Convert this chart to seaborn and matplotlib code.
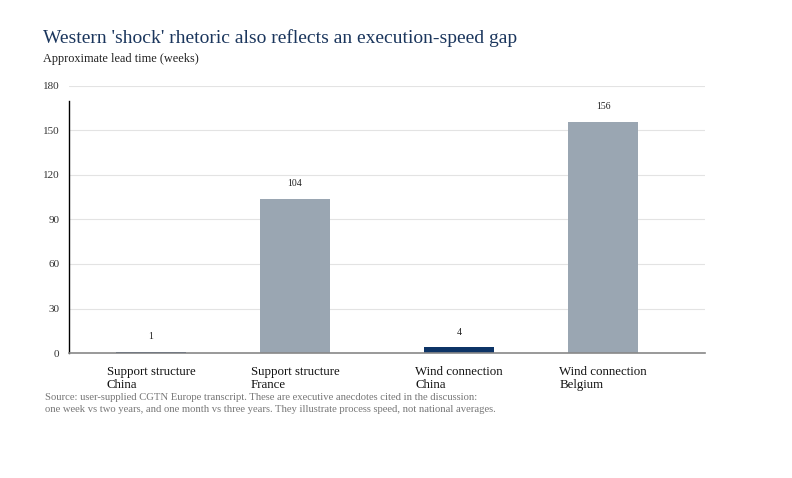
import pandas as pd
import seaborn as sns
import matplotlib.pyplot as plt

## data
categories = ["Support structure\nChina", "Support structure\nFrance",
              "Wind connection\nChina", "Wind connection\nBelgium"]
weeks = [1, 104, 4, 156]
side = ["China", "West", "China", "West"]
x_pos = [0.0, 1.0, 2.14, 3.14]
y_ticks = [0, 30, 60, 90, 120, 150, 180]

navy = "#0d3466"
grey = "#9aa6b2"

df = pd.DataFrame({"x": x_pos, "weeks": weeks, "side": side, "label": categories})

sns.set_style("white")
plt.rcParams['font.family'] = ['Liberation Serif', 'DejaVu Serif']

fig = plt.figure(figsize=(7.92, 4.78), dpi=100)
ax = fig.add_axes([0.0871, 0.2615, 0.803, 0.5586])

sns.barplot(data=df, x="x", y="weeks", hue="side", native_scale=True,
            palette={"China": navy, "West": grey}, width=0.486,
            saturation=1, linewidth=0, dodge=False, legend=False, ax=ax)

ax.set_xlim(-0.569, 3.847)
ax.set_ylim(0, 180)
ax.set_yticks(y_ticks)
ax.set_yticklabels([str(t) for t in y_ticks], fontsize=8, color="#333333")
ax.yaxis.grid(True, color="#e3e3e3", linewidth=0.8)
ax.set_axisbelow(True)
ax.tick_params(axis="y", length=0, pad=7)
ax.set_xticks([])
ax.set_xlabel("")
ax.set_ylabel("")

for s in ["top", "right"]:
    ax.spines[s].set_visible(False)
ax.spines["left"].set_color("black")
ax.spines["left"].set_linewidth(1.0)
ax.spines["left"].set_bounds(0, 170)
ax.spines["bottom"].set_color("#888888")
ax.spines["bottom"].set_linewidth(1.2)

# value labels
for xp, w in zip(x_pos, weeks):
    ax.annotate(str(w), (xp, w), xytext=(0, 7.5), textcoords="offset points",
                ha="center", va="bottom", fontsize=7, color="#222222")

# category labels, left aligned under each bar
for xp, lab in zip(x_pos, categories):
    ax.annotate(lab, (xp - 0.243, 0), xytext=(-9, -13), textcoords="offset pixels",
                ha="left", va="top", fontsize=9.3, color="#111111",
                annotation_clip=False, linespacing=1.1)

fig.text(0.0543, 0.921, "Western 'shock' rhetoric also reflects an execution-speed gap",
         fontsize=14, color="#1b365d", ha="left", va="center")
fig.text(0.0543, 0.877, "Approximate lead time (weeks)", fontsize=8.8,
         color="#222222", ha="left", va="center")
fig.text(0.0568, 0.156,
         "Source: user-supplied CGTN Europe transcript. These are executive anecdotes cited in the discussion:\n"
         "one week vs two years, and one month vs three years. They illustrate process speed, not national averages.",
         fontsize=7.7, color="#777777", ha="left", va="center", linespacing=1.35)

fig.savefig("out.png", dpi=100)
